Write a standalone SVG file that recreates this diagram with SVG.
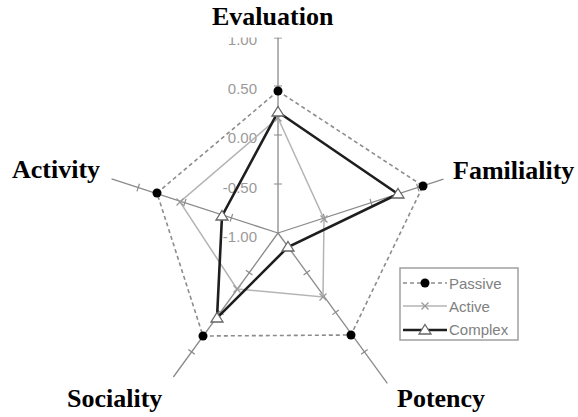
<svg xmlns="http://www.w3.org/2000/svg" xmlns:xlink="http://www.w3.org/1999/xlink" width="578" height="417" viewBox="0 0 578 417">
  <style>
    .axis { stroke: #8a8a8a; stroke-width: 1.3; fill: none; }
    .tick { stroke: #8a8a8a; stroke-width: 1.2; }
    .scale { font-family: "Liberation Sans", Arial, sans-serif; font-size: 15px; fill: #9a9a9a; text-anchor: end; }
    .title { font-family: "Liberation Serif", "Times New Roman", serif; font-size: 26px; font-weight: bold; fill: #000; }
    .passive { stroke: #8c8c8c; stroke-width: 1.6; stroke-dasharray: 4 3; fill: none; }
    .active { stroke: #b4b4b4; stroke-width: 1.5; fill: none; }
    .complex { stroke: #1e1e1e; stroke-width: 2.6; fill: none; stroke-linejoin: miter; }
    .legtext { font-family: "Liberation Sans", Arial, sans-serif; font-size: 15px; fill: #808080; }
  </style>
  <defs>
    <circle id="dot" r="4.5" fill="#000"/>
    <path id="cross" d="M-3.5,-3.5 L3.5,3.5 M-3.5,3.5 L3.5,-3.5" stroke="#9a9a9a" stroke-width="1.3" fill="none"/>
    <path id="tri" d="M0,-5.5 L6,4 L-6,4 Z" fill="#fff" stroke="#666" stroke-width="1.3"/>
  </defs>

  <rect width="578" height="417" fill="#fff"/>

  <!-- radial axes with tick marks, rotated about the centre (278,233) -->
  <g id="axes">
    <g id="axis-evaluation">
      <line class="axis" x1="278" y1="233" x2="278" y2="37"/>
      <path class="tick" d="M274,184H282M274,135H282M274,86H282M274,38H282"/>
    </g>
    <g id="axis-familiality" transform="rotate(72 278 233)">
      <line class="axis" x1="278" y1="233" x2="278" y2="59"/>
      <path class="tick" d="M274,184H282M274,135H282M274,86H282"/>
    </g>
    <g id="axis-potency" transform="rotate(144 278 233)">
      <line class="axis" x1="278" y1="233" x2="278" y2="47"/>
      <path class="tick" d="M274,184H282M274,135H282M274,86H282"/>
    </g>
    <g id="axis-sociality" transform="rotate(216 278 233)">
      <line class="axis" x1="278" y1="233" x2="278" y2="55"/>
      <path class="tick" d="M274,184H282M274,135H282M274,86H282"/>
    </g>
    <g id="axis-activity" transform="rotate(288 278 233)">
      <line class="axis" x1="278" y1="233" x2="278" y2="58"/>
      <path class="tick" d="M274,184H282M274,135H282M274,86H282"/>
    </g>
  </g>

  <!-- scale values along the Evaluation axis -->
  <g id="scale-labels">
    <text class="scale" x="257" y="45">1.00</text>
    <text class="scale" x="257" y="93.5">0.50</text>
    <text class="scale" x="257" y="143">0.00</text>
    <text class="scale" x="257" y="192.5">-0.50</text>
    <text class="scale" x="257" y="242">-1.00</text>
  </g>

  <!-- data series -->
  <g id="connectors">
    <polygon id="series-passive" class="passive" points="278,91 423,186 351,335 203,336 157,193"/>
    <polygon id="series-active" class="active" points="278,118 324,219 323,297 237,289 180,202"/>
    <polygon id="series-complex" class="complex" points="278,112 398,194 288,247 217,318 222,216"/>
  </g>

  <g id="markers-active">
    <use xlink:href="#cross" x="278" y="118"/>
    <use xlink:href="#cross" x="324" y="219"/>
    <use xlink:href="#cross" x="323" y="297"/>
    <use xlink:href="#cross" x="237" y="289"/>
    <use xlink:href="#cross" x="180" y="202"/>
  </g>
  <g id="markers-complex">
    <use xlink:href="#tri" x="278" y="112"/>
    <use xlink:href="#tri" x="398" y="194"/>
    <use xlink:href="#tri" x="288" y="247"/>
    <use xlink:href="#tri" x="217" y="318"/>
    <use xlink:href="#tri" x="222" y="216"/>
  </g>
  <g id="markers-passive">
    <use xlink:href="#dot" x="278" y="91"/>
    <use xlink:href="#dot" x="423" y="186"/>
    <use xlink:href="#dot" x="351" y="335"/>
    <use xlink:href="#dot" x="203" y="336"/>
    <use xlink:href="#dot" x="157" y="193"/>
  </g>

  <!-- axis titles (the top one sits on a white band) -->
  <g id="node-evaluation">
    <rect x="200" y="0" width="150" height="37.5" fill="#fff"/>
    <text class="title" x="212" y="25">Evaluation</text>
  </g>
  <g id="node-familiality">
    <text class="title" x="453" y="179">Familiality</text>
  </g>
  <g id="node-potency">
    <text class="title" x="397" y="407">Potency</text>
  </g>
  <g id="node-sociality">
    <text class="title" x="67" y="407">Sociality</text>
  </g>
  <g id="node-activity">
    <text class="title" x="12" y="178">Activity</text>
  </g>

  <!-- legend -->
  <g id="legend">
    <rect x="400" y="268" width="118" height="72" fill="#fff" stroke="#a0a0a0" stroke-width="1.5"/>
    <line class="passive" x1="403" y1="283" x2="447" y2="283"/>
    <use xlink:href="#dot" x="425" y="283"/>
    <text class="legtext" x="449" y="289">Passive</text>
    <line class="active" x1="403" y1="306" x2="447" y2="306"/>
    <use xlink:href="#cross" x="425" y="306"/>
    <text class="legtext" x="449" y="312">Active</text>
    <line class="complex" x1="403" y1="330" x2="447" y2="330"/>
    <use xlink:href="#tri" x="425" y="330"/>
    <text class="legtext" x="449" y="335">Complex</text>
  </g>
</svg>
